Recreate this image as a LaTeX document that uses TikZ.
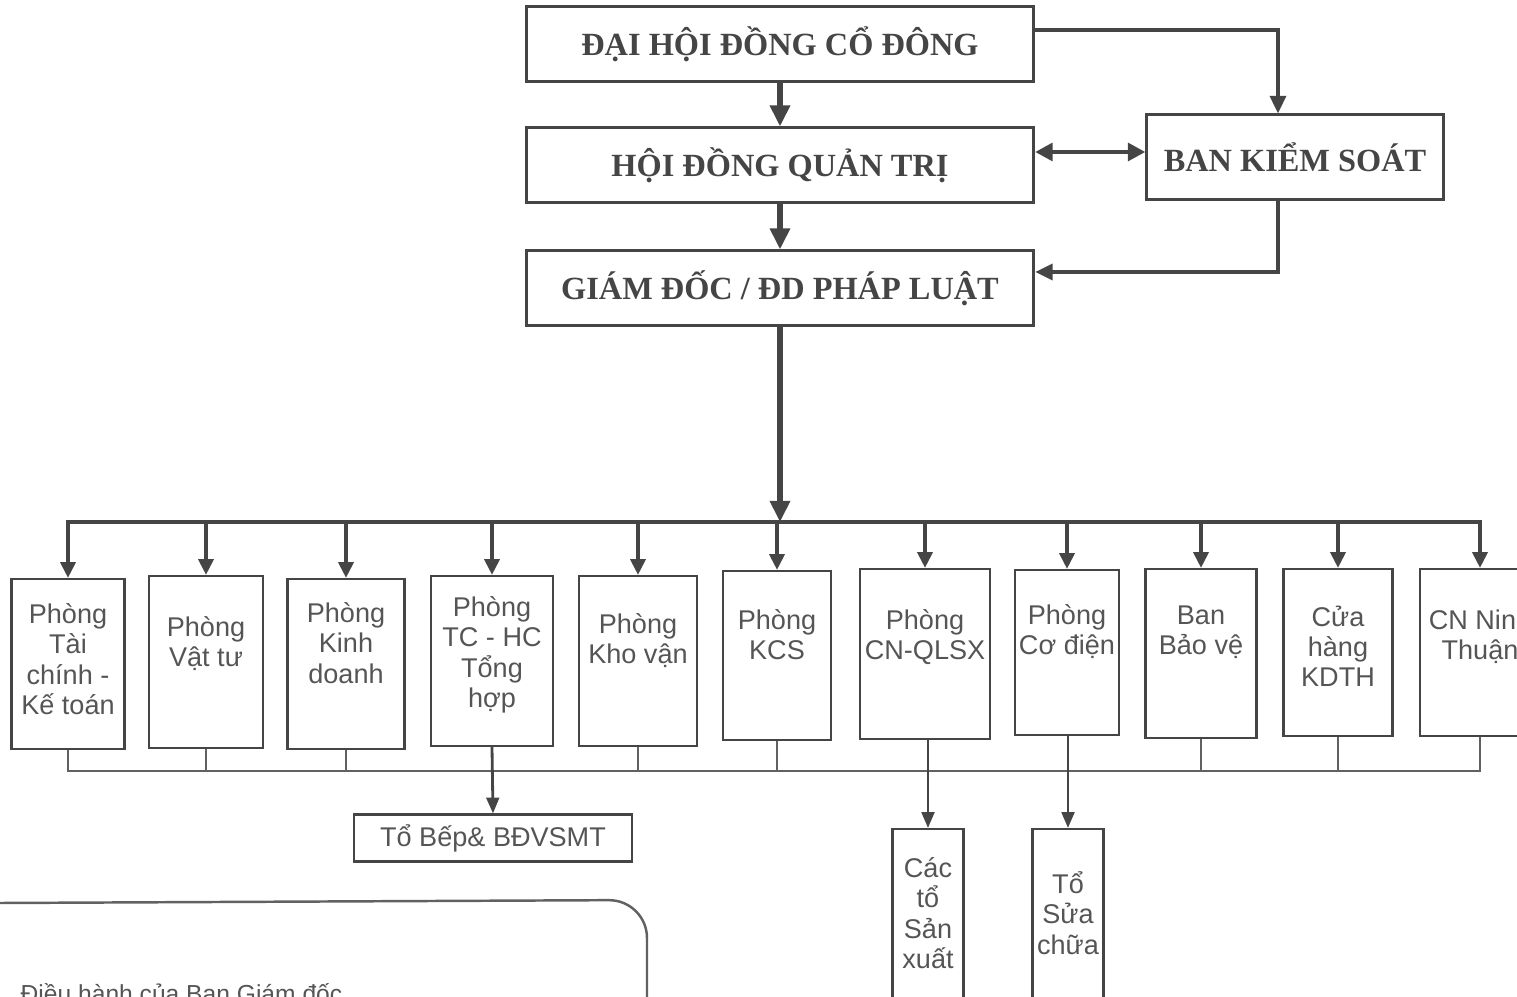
\documentclass[tikz,border=0pt]{standalone}
\usepackage{fontspec}
\setmainfont{Liberation Serif}
\setsansfont{Liberation Sans}
\usetikzlibrary{positioning,calc,arrows.meta}
\definecolor{ink}{HTML}{454545}
\definecolor{txt}{HTML}{555555}

\begin{document}
\begin{tikzpicture}[x=0.01cm,y=-0.01cm,
  topbox/.style={draw=ink,line width=0.85pt,minimum width=5.07cm,minimum height=0.74cm,
    font=\fontsize{9.2}{11}\selectfont\bfseries,text=ink},
  dept/.style={draw=ink,line width=0.6pt,anchor=north,inner sep=0pt},
  depttext/.style={anchor=north,inner sep=0pt,align=center,
    font=\sffamily\fontsize{7.7}{8.6}\selectfont,text=txt},
  bigarrow/.style={draw=ink,line width=1.5pt,-{Triangle[length=6pt,width=5.5pt]}},
  sidearrow/.style={draw=ink,line width=1.1pt,-{Triangle[length=5pt,width=4.5pt]}},
  busarrow/.style={draw=ink,line width=1.4pt,-{Triangle[length=4.5pt,width=4.2pt]}},
  subarrow/.style={draw=ink,line width=0.8pt,-{Triangle[length=4.5pt,width=3.6pt]}},
  thinline/.style={draw=ink!85,line width=0.5pt}]

\useasboundingbox (0,0) rectangle (1517,997);

% upper levels
\node[topbox] (dhdcd) at (780,44) {ĐẠI HỘI ĐỒNG CỔ ĐÔNG};
\node[topbox] (hdqt) at (780,165) {HỘI ĐỒNG QUẢN TRỊ};
\node[topbox] (gd) at (780,288) {GIÁM ĐỐC / ĐD PHÁP LUẬT};
\node[topbox,minimum width=2.96cm,minimum height=0.84cm] (bks) at (1295,157) {BAN KIỂM SOÁT};

\draw[bigarrow] (dhdcd) -- (hdqt);
\draw[bigarrow] (hdqt) -- (gd);
\draw[sidearrow] ([yshift=0.14cm]dhdcd.east) -| ([xshift=-0.17cm]bks.north);
\draw[sidearrow,line width=1.4pt,{Triangle[length=5pt,width=5pt]}-{Triangle[length=5pt,width=5pt]}]
  ([yshift=0.13cm]hdqt.east) -- ([yshift=0.13cm]hdqt.east -| bks.west);
\draw[sidearrow] ([xshift=-0.17cm]bks.south) |- ([yshift=0.16cm]gd.east);

% departments
\foreach \nm/\cx/\ytop/\w/\h/\gap/\txt in {
  tcke/68/578/113/170/25/{Phòng\\Tài\\chính -\\Kế toán},
  vattu/206/575/114/172/41/{Phòng\\Vật tư},
  kd/346/578/117/170/24/{Phòng\\Kinh\\doanh},
  tchc/492/575/122/170/21/{Phòng\\TC - HC\\Tổng\\hợp},
  khovan/638/575/118/170/38/{Phòng\\Kho vận},
  kcs/777/570/108/169/39/{Phòng\\KCS},
  qlsx/925/568/130/170/41/{Phòng\\CN-QLSX},
  codien/1067/569/104/165/35/{Phòng\\Cơ điện},
  baove/1201/568/111/169/37/{Ban\\Bảo vệ},
  cuahang/1338/568/109/167/37/{Cửa\\hàng\\KDTH},
  ninh/1480/568/120/167/41/{CN Ninh\\Thuận}}{
  \node[dept,minimum width=\w*0.1mm,minimum height=\h*0.1mm] (\nm) at (\cx,\ytop) {};
  \node[depttext] (\nm-t) at (\cx,\ytop+\gap) {\txt};
}

% upper bus
\coordinate (bus) at (780,522);
\coordinate (lowbus) at (0,771);
\draw[bigarrow] (gd.south) -- (gd.south |- bus);
\draw[busarrow] (bus) -| (tcke.north);
\draw[busarrow] (bus) -| (ninh.north);
\foreach \nm in {vattu,kd,tchc,khovan,kcs,qlsx,codien,baove,cuahang}
  \draw[busarrow] (\nm.north |- bus) -- (\nm.north);

% lower bus
\draw[thinline] (tcke.south) |- (lowbus -| ninh.south) -- (ninh.south);
\foreach \nm in {vattu,kd,khovan,kcs,baove,cuahang}
  \draw[thinline] (\nm.south) -- (\nm.south |- lowbus);

% sub units
\node[dept,anchor=center,minimum width=2.77cm,minimum height=0.47cm,
  font=\sffamily\fontsize{7.7}{8.6}\selectfont,text=txt] (bep) at (493,838) {Tổ Bếp\& BĐVSMT};
\node[dept,minimum width=0.71cm,minimum height=1.9cm] (sx) at (928,828) {};
\node[depttext] (sx-t) at (928,857) {Các\\tổ\\Sản\\xuất};
\node[dept,minimum width=0.71cm,minimum height=1.9cm] (sc) at (1068,828) {};
\node[depttext] (sc-t) at (1068,871) {Tổ\\Sửa\\chữa};

\draw[subarrow] (tchc.south) -- (bep.north);
\draw[subarrow] (sx.north |- qlsx.south) -- (sx.north);
\draw[subarrow] (sc.north |- codien.south) -- (sc.north);

% frame at the bottom
\draw[thinline,line width=0.7pt,rounded corners=0.38cm] (0,903) -- (647,900) -- (647,1000);
\node[anchor=base west,inner sep=0pt,font=\sffamily\fontsize{7}{8}\selectfont,text=txt]
  (dieuhanh) at (20,1002) {Điều hành của Ban Giám đốc};
\end{tikzpicture}
\end{document}
